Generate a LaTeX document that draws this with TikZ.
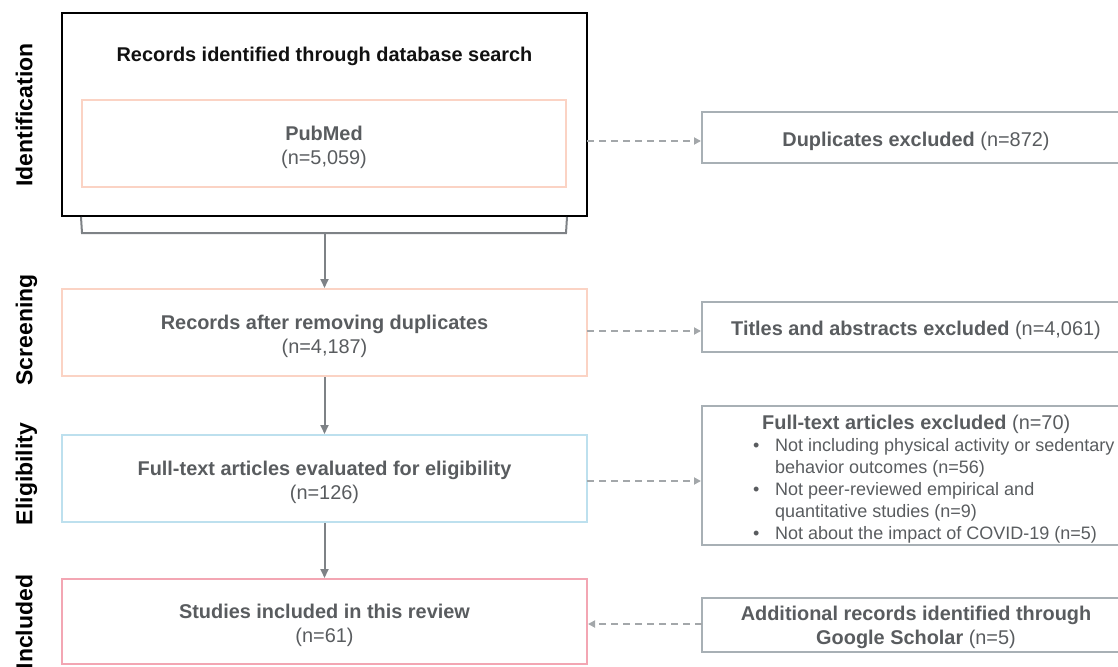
\documentclass[tikz,border=0pt]{standalone}
\usepackage{fontspec}
\setmainfont{Liberation Sans}
\usetikzlibrary{arrows.meta}
\definecolor{txtgray}{HTML}{595C5F}
\definecolor{titleblack}{HTML}{111111}
\definecolor{peach}{HTML}{FBD3C4}
\definecolor{lblue}{HTML}{BDE0EE}
\definecolor{pinkb}{HTML}{F3A6B3}
\definecolor{rgray}{HTML}{A8B0B5}
\definecolor{agray}{HTML}{7E8286}
\definecolor{dgray}{HTML}{A3A7AA}
\newcommand\tup{\rule{0pt}{22pt}}
\begin{document}
\begin{tikzpicture}[x=1pt,y=-1pt,
  box/.style={draw, line width=2pt, inner sep=0pt, minimum width=525pt, minimum height=87pt,
    align=center, text=txtgray, font=\fontsize{19.9}{24.5}\selectfont},
  rbox/.style={draw=rgray, line width=2pt, inner sep=0pt, minimum width=428pt,
    align=center, text=txtgray, font=\fontsize{19.9}{24}\selectfont},
  phase/.style={rotate=90, anchor=base, inner sep=0pt, text=black,
    font=\bfseries\fontsize{23}{26}\selectfont},
  flow/.style={draw=agray, line width=2pt, -{Triangle[length=9pt,width=8pt]}},
  side/.style={draw=dgray, line width=2pt, dash pattern=on 7pt off 5pt,
    -{Triangle[length=7pt,width=7pt]}},
  bracketline/.style={draw=agray, line width=2pt}
]
\useasboundingbox (0,0) rectangle (1118,666);
\clip (0,0) rectangle (1118,666);

% phase labels
\node[phase] (lid) at (32.3,115) {Identification};
\node[phase] (lsc) at (32.3,330) {Screening};
\node[phase] (lel) at (32.3,474) {Eligibility};
\node[phase] (lin) at (32.3,622) {Included};

% left column
\node[box, draw=black, minimum height=203pt] (idbox) at (324.5,114.5) {};
\node[anchor=base, inner sep=0pt, text=titleblack, font=\bfseries\fontsize{19.9}{24}\selectfont]
  (idtitle) at (324.5,62) {Records identified through database search};
\node[box, draw=peach, minimum width=484pt] (pubmed) at (324,143.5)
  {\tup\textbf{PubMed}\\(n=5,059)};
\node[box, draw=peach] (screen) at (324.5,332.5)
  {\tup\textbf{Records after removing duplicates}\\(n=4,187)};
\node[box, draw=lblue] (elig) at (324.5,478.5)
  {\tup\textbf{Full-text articles evaluated for eligibility}\\(n=126)};
\node[box, draw=pinkb, minimum height=85pt] (incl) at (324.5,621.5)
  {\tup\textbf{Studies included in this review}\\(n=61)};

% right column
\node[rbox, minimum height=50pt] (dup) at (916,137.5)
  {\tup\textbf{Duplicates excluded} (n=872)};
\node[rbox, minimum height=50pt] (tiab) at (916,327)
  {\tup\textbf{Titles and abstracts excluded} (n=4,061)};
\node[rbox, minimum height=139pt] (ftex) at (916,475.5) {};
\node[anchor=north west, inner sep=0pt, align=left, text=txtgray,
  font=\fontsize{18}{22}\selectfont] (ftext) at (753,415)
  {\hspace*{9pt}{\fontsize{19.9}{22}\selectfont\textbf{Full-text articles excluded} (n=70)}\\
   \makebox[22pt][l]{•}Not including physical activity or sedentary\\
   \hspace*{22pt}behavior outcomes (n=56)\\
   \makebox[22pt][l]{•}Not peer-reviewed empirical and\\
   \hspace*{22pt}quantitative studies (n=9)\\
   \makebox[22pt][l]{•}Not about the impact of COVID-19 (n=5)};
\node[rbox, minimum height=54pt] (addl) at (916,625)
  {\rule{0pt}{19pt}\textbf{Additional records identified through}\\\textbf{Google Scholar} (n=5)};

% bracket under the identification box
\coordinate (bl) at (82,233);
\coordinate (br) at (566,233);
\coordinate (bm) at (324.5,233);
\draw[bracketline] (pubmed.west |- idbox.south) -- (bl) -- (br) -- (pubmed.east |- idbox.south);

% main flow
\draw[flow] (bm) -- (screen.north);
\draw[flow] (screen) -- (elig);
\draw[flow] (elig) -- (incl);

% side arrows
\coordinate (d1) at (587,141);
\coordinate (d2) at (587,331);
\coordinate (d3) at (587,481);
\coordinate (d4) at (702,624);
\draw[side] (d1) -- (d1 -| dup.west);
\draw[side] (d2) -- (d2 -| tiab.west);
\draw[side] (d3) -- (d3 -| ftex.west);
\draw[side] (d4) -- (d4 -| incl.east);
\end{tikzpicture}
\end{document}
